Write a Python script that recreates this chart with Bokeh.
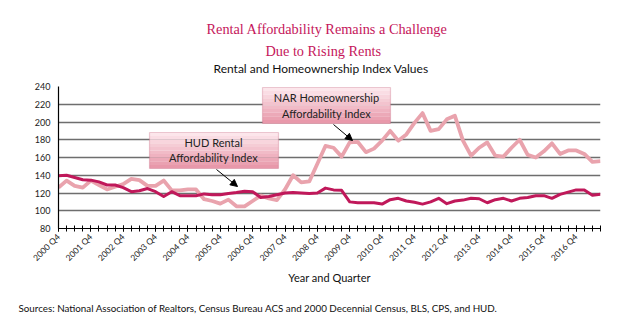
from math import pi
from bokeh.plotting import figure
from bokeh.models import (Label, BoxAnnotation, Arrow, NormalHead, FixedTicker, Range1d, Title)
from bokeh.embed import file_html
from bokeh.resources import INLINE

# ---------------- data ----------------
tick_labels = ["2000 Q4", "2001 Q4", "2002 Q4", "2003 Q4", "2004 Q4", "2005 Q4",
               "2006 Q4", "2007 Q4", "2008 Q4", "2009 Q4", "2010 Q4", "2011 Q4",
               "2012 Q4", "2013 Q4", "2014 Q4", "2015 Q4", "2016 Q4"]

# quarterly values, 2000 Q4 .. 2017 Q3
nar_index = [126, 134, 128, 126, 134, 129, 124, 127, 130, 136,
             134.5, 128, 128, 134, 123, 123, 124, 124, 113, 111,
             108, 112.5, 105, 105, 111, 117, 114, 112, 124, 140,
             132, 133, 153, 173, 171, 161, 177, 177.5, 166, 170,
             179, 190, 179, 186, 199, 210, 190, 192, 203, 207,
             179, 162, 171, 177, 162, 161, 171, 180, 163, 160,
             167, 176, 164, 168, 168, 164, 155, 156]

hud_index = [139.5, 140, 137.5, 135, 134.5, 132.5, 129, 129, 126, 121.5,
             122.5, 125, 121.5, 116, 121.5, 117, 117, 117, 119, 118,
             118, 119.5, 120.5, 122, 121.5, 115, 116, 118, 120, 120.5,
             120, 119.5, 120, 125.5, 123.5, 123, 110, 109, 109, 109,
             107.5, 112.5, 114, 111, 109.5, 107.5, 110, 114, 108, 111,
             112, 114, 113.5, 109, 112.5, 114, 111, 114, 115, 117,
             117, 114, 118.5, 121, 123.5, 123.5, 117.5, 118.5]

y_ticks = [80, 100, 120, 140, 160, 180, 200, 220, 240]

quarters = list(range(len(nar_index)))
label_ticks = [4 * i for i in range(len(tick_labels))]

# ---------------- layout ----------------
W, H = 640, 334
FL, FR, FT, FB = 58, 600, 86, 228   # frame edges in canvas pixels

p = figure(width=W, height=H, output_backend="svg", toolbar_location=None,
           x_range=Range1d(0, len(nar_index) - 1), y_range=Range1d(80, 240),
           min_border_left=FL, min_border_right=W - FR,
           min_border_top=FT, min_border_bottom=H - FB)
p.outline_line_color = None
p.background_fill_color = "white"
p.border_fill_color = "white"

SANS = "Lato"
TITLE_C = "#c5165b"

# titles (added nearest-first)
p.add_layout(Title(text="Rental and Homeownership Index Values", align="left", offset=155,
                   text_font=SANS, text_font_size="12px", text_font_style="normal",
                   text_color="#111111", standoff=22), "above")
p.add_layout(Title(text="Due to Rising Rents", align="left", offset=207,
                   text_font="Liberation Serif", text_font_size="14.3px", text_font_style="normal",
                   text_color=TITLE_C, standoff=-22), "above")
p.add_layout(Title(text="Rental Affordability Remains a Challenge", align="left", offset=148,
                   text_font="Liberation Serif", text_font_size="14.3px", text_font_style="normal",
                   text_color=TITLE_C, standoff=21), "above")

# y axis
p.yaxis.ticker = FixedTicker(ticks=y_ticks)
p.yaxis.major_tick_in = 0
p.yaxis.major_tick_out = 0
p.yaxis.minor_tick_in = 0
p.yaxis.minor_tick_out = 0
p.yaxis.axis_line_color = "black"
p.yaxis.axis_line_width = 1.2
p.yaxis.major_label_text_font = SANS
p.yaxis.major_label_text_font_size = "9px"
p.yaxis.major_label_text_color = "#222222"
p.yaxis.major_label_standoff = 8

# x axis
p.xaxis.ticker = FixedTicker(ticks=label_ticks, minor_ticks=quarters)
p.xaxis.major_label_overrides = {t: lab for t, lab in zip(label_ticks, tick_labels)}
p.xaxis.major_label_orientation = pi / 4
p.xaxis.major_label_text_font = SANS
p.xaxis.major_label_text_font_size = "8.5px"
p.xaxis.major_label_text_color = "#222222"
p.xaxis.major_label_standoff = 4
p.xaxis.major_tick_in = 3
p.xaxis.major_tick_out = 3
p.xaxis.minor_tick_in = 3
p.xaxis.minor_tick_out = 3
p.xaxis.axis_line_color = "black"
p.xaxis.axis_line_width = 1.2
p.xaxis.major_tick_line_color = "black"
p.xaxis.minor_tick_line_color = "black"
p.xaxis.axis_label = "Year and Quarter"
p.xaxis.axis_label_text_font = SANS
p.xaxis.axis_label_text_font_size = "11px"
p.xaxis.axis_label_text_font_style = "normal"
p.xaxis.axis_label_text_color = "#111111"
p.xaxis.axis_label_standoff = 2

p.add_layout(Title(text="Sources: National Association of Realtors, Census Bureau ACS and 2000 Decennial Census, BLS, CPS, and HUD.",
                   align="left", offset=-40, text_font=SANS, text_font_size="9.8px",
                   text_font_style="normal", text_color="#111111", standoff=24), "below")

# grid
p.xgrid.visible = False
p.ygrid.ticker = FixedTicker(ticks=y_ticks)
p.ygrid.grid_line_color = "#6e6e6e"
p.ygrid.grid_line_width = 1.5

# lines
p.line(quarters, nar_index, line_color="#e9a3ad", line_width=3.8, line_join="round")
p.line(quarters, hud_index, line_color="#c0185a", line_width=3, line_join="round")

# ---------------- annotation boxes ----------------
def sx(cx):
    return cx - FL

def sy(cy):
    return FB - cy

def dx(cx):
    return (cx - FL) / (FR - FL) * (len(nar_index) - 1)

def dy(cy):
    return 80 + (FB - cy) / (FB - FT) * 160

def callout(left, right, top, bottom, lines, cx, cys):
    n = 10
    top_c = (252, 230, 235)
    bot_c = (232, 152, 170)
    h = (top - bottom) / n
    for k in range(n):
        t = k / (n - 1)
        c = tuple(int(round(top_c[j] + (bot_c[j] - top_c[j]) * t)) for j in range(3))
        p.add_layout(BoxAnnotation(left=left, right=right, top=top - k * h, bottom=top - (k + 1) * h - 0.01,
                                   fill_color="#%02x%02x%02x" % c, fill_alpha=1, line_color=None))
    p.add_layout(BoxAnnotation(left=left, right=right, top=top, bottom=bottom,
                               fill_alpha=0, line_color="#c45c78", line_width=1.2))
    for txt, cy in zip(lines, cys):
        p.add_layout(Label(x=sx(cx), y=sy(cy), x_units="screen", y_units="screen", text=txt,
                           text_font=SANS, text_font_size="11px", text_color="#222222",
                           text_align="center", text_baseline="middle"))

callout(dx(262), dx(390), dy(87), dy(123), ["NAR Homeownership", "Affordability Index"], 326, [97, 113])
callout(dx(149), dx(278), dy(132), dy(168), ["HUD Rental", "Affordability Index"], 213, [142, 157])

p.add_layout(Arrow(end=NormalHead(size=7, fill_color="black", line_color="black"),
                   x_start=dx(333), y_start=dy(124), x_end=dx(352), y_end=dy(140),
                   line_color="black", line_width=1))
p.add_layout(Arrow(end=NormalHead(size=7, fill_color="black", line_color="black"),
                   x_start=dx(216), y_start=dy(169), x_end=dx(237), y_end=dy(186),
                   line_color="black", line_width=1))

open("out.html", "w").write(file_html(p, INLINE))
